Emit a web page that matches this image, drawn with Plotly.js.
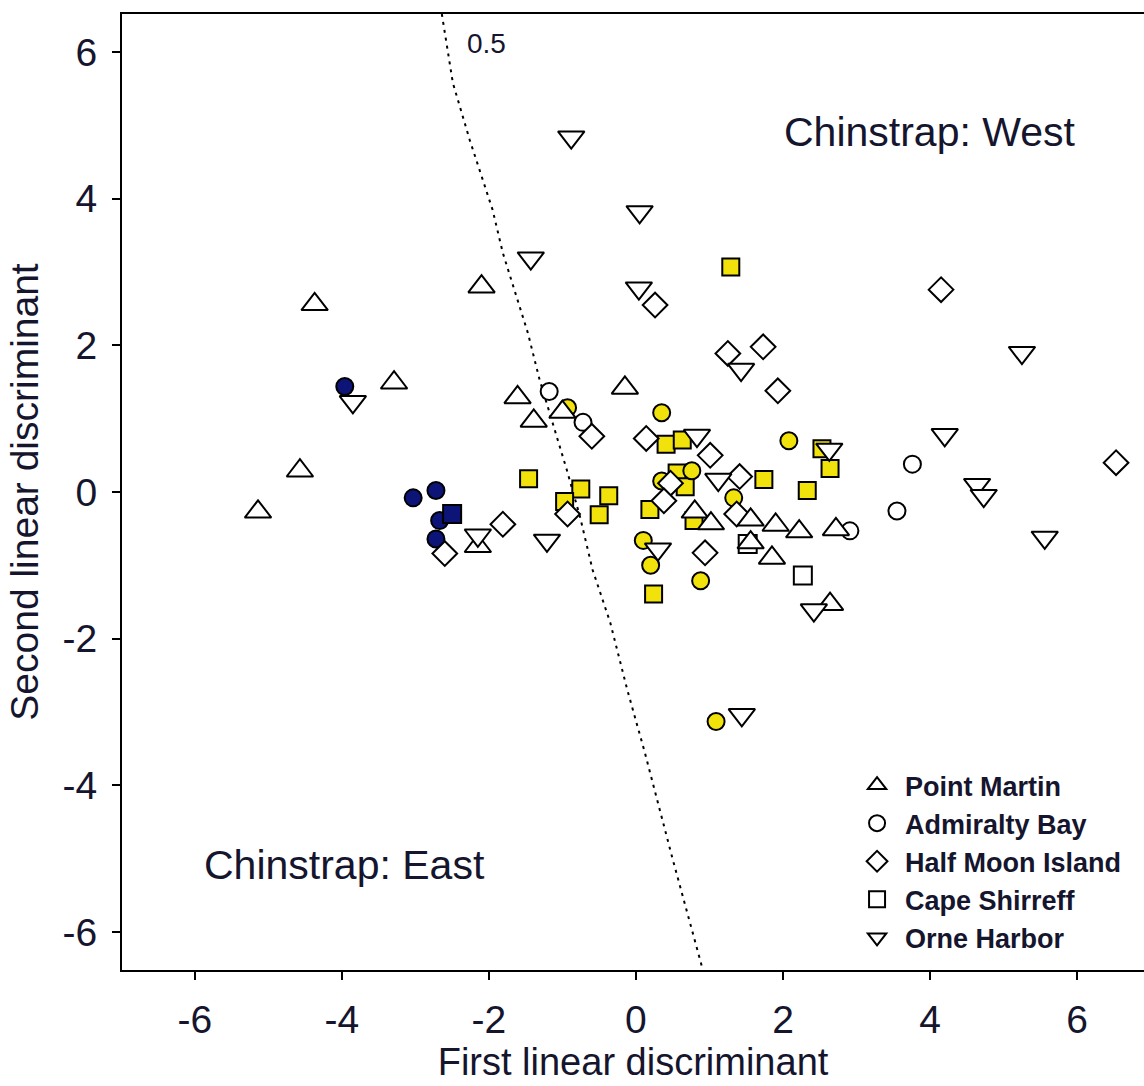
<!DOCTYPE html>
<html>
<head>
<meta charset="utf-8">
<script src="https://cdn.plot.ly/plotly-3.0.1.min.js"></script>
<style>html,body{margin:0;padding:0;background:#fff;}#chart{width:1144px;height:1086px;}</style>
</head>
<body>
<div id="chart"></div>
<script>
// Point Martin (open triangles)
const pointMartinX = [-2.10,-4.37,-3.29,-4.57,-5.14,-2.15,-1.61,-1.39,-1.00,-0.15,0.80,1.02,1.56,1.90,2.22,2.72,1.56,1.85,2.64];
const pointMartinY = [2.80,2.56,1.49,0.29,-0.27,-0.74,1.29,0.97,1.09,1.42,-0.27,-0.43,-0.38,-0.45,-0.54,-0.51,-0.69,-0.90,-1.53];
// Admiralty Bay (open circles)
const admiraltyX = [-1.18,-0.72,3.76,3.55,2.91];
const admiraltyY = [1.37,0.95,0.38,-0.26,-0.53];
// Half Moon Island (open diamonds)
const halfMoonX = [0.26,1.25,1.73,4.15,1.93,6.53,1.41,-0.60,0.14,1.01,-0.93,0.47,0.38,0.94,1.37,-1.81,-2.60];
const halfMoonY = [2.55,1.89,1.98,2.76,1.38,0.40,0.21,0.76,0.73,0.50,-0.30,0.12,-0.12,-0.83,-0.30,-0.44,-0.84];
// Cape Shirreff (open squares)
const capeShirreffX = [2.27,1.52];
const capeShirreffY = [-1.14,-0.71];
// Orne Harbor (open inverted triangles)
const orneHarborX = [-0.88,0.05,-1.43,0.04,-3.85,5.25,4.20,4.64,4.73,5.56,2.63,2.42,1.44,-1.21,-2.15,0.83,0.30,1.12,1.43];
const orneHarborY = [4.84,3.82,3.19,2.78,1.23,1.90,0.78,0.10,-0.05,-0.62,0.58,-1.61,-3.04,-0.66,-0.59,0.77,-0.78,0.17,1.67];
// Filled yellow circles (Admiralty Bay)
const admiraltyYellowX = [-0.93,0.35,0.35,0.76,1.33,2.08,0.10,0.20,0.88,1.09];
const admiraltyYellowY = [1.15,1.08,0.15,0.29,-0.08,0.70,-0.66,-1.00,-1.21,-3.13];
// Filled yellow squares (Cape Shirreff)
const capeYellowX = [1.29,-1.46,-0.75,-0.97,-0.37,-0.50,0.41,0.63,0.56,0.67,0.19,1.74,2.33,2.64,2.53,0.24,0.79];
const capeYellowY = [3.07,0.18,0.04,-0.13,-0.05,-0.31,0.65,0.71,0.26,0.07,-0.24,0.17,0.02,0.32,0.59,-1.39,-0.39];
// Filled navy circles / squares
const admiraltyNavyX = [-3.96,-3.03,-2.72,-2.67,-2.72];
const admiraltyNavyY = [1.44,-0.08,0.02,-0.39,-0.64];
const capeNavyX = [-2.50];
const capeNavyY = [-0.30];
// 0.5 probability boundary
const boundaryX = [-2.64,-2.49,-2.26,-2.08,-1.95,-1.81,-1.65,-1.47,-1.31,-1.10,-0.94,-0.76,-0.59,-0.35,-0.12,0.12,0.50,0.91];
const boundaryY = [6.52,5.58,4.80,4.26,3.85,3.26,2.76,2.17,1.53,0.85,0.30,-0.34,-1.06,-1.78,-2.69,-3.55,-5.01,-6.52];
// Tick labels
const tickVals = [-6,-4,-2,0,2,4,6];
const tickLabels = ['-6','-4','-2','0','2','4','6'];

const FONT = 'Liberation Sans, Arial, Helvetica, sans-serif';
const TXT = '#15152e';
const YELLOW = '#f2e20c';
const NAVY = '#0c1478';
const line = {color:'#000', width:2};

function tr(name, x, y, symbol, size, fill, opts) {
  return Object.assign({
    type:'scatter', mode:'markers', name:name, x:x, y:y,
    marker:{symbol:symbol, size:size, color:fill, line:line},
    hoverinfo:'x+y+name', cliponaxis:true
  }, opts || {});
}

const data = [
  {type:'scatter', mode:'lines', x:boundaryX, y:boundaryY, showlegend:false,
   line:{color:'#000', width:2, dash:'3px,5px'}, hoverinfo:'skip'},
  tr('Admiralty Bay', admiraltyX, admiraltyY, 'circle', 17, '#fff', {legendrank:2}),
  tr('Cape Shirreff (yellow)', capeYellowX, capeYellowY, 'square', 17, YELLOW, {showlegend:false}),
  tr('Admiralty Bay (yellow)', admiraltyYellowX, admiraltyYellowY, 'circle', 17, YELLOW, {showlegend:false}),
  tr('Admiralty Bay (navy)', admiraltyNavyX, admiraltyNavyY, 'circle', 17, NAVY, {showlegend:false}),
  tr('Cape Shirreff (navy)', capeNavyX, capeNavyY, 'square', 18, NAVY, {showlegend:false}),
  tr('Half Moon Island', halfMoonX, halfMoonY, 'diamond', 19, '#fff', {legendrank:3}),
  tr('Cape Shirreff', capeShirreffX, capeShirreffY, 'square', 18, '#fff', {legendrank:4}),
  tr('Point Martin', pointMartinX, pointMartinY, 'triangle-up', 23, '#fff', {legendrank:1}),
  tr('Orne Harbor', orneHarborX, orneHarborY, 'triangle-down', 23, '#fff', {legendrank:5})
];

const axisCommon = {
  showgrid:false, zeroline:false, showline:true, linecolor:'#000', linewidth:2,
  ticks:'outside', ticklen:8, tickwidth:2, tickcolor:'#000',
  tickmode:'array', tickvals:tickVals, ticktext:tickLabels,
  tickfont:{family:FONT, size:39, color:TXT}
};

const layout = {
  width:1144, height:1086,
  margin:{l:122, r:0, t:14, b:116, pad:0},
  paper_bgcolor:'#fff', plot_bgcolor:'#fff',
  font:{family:FONT, color:TXT},
  xaxis:Object.assign({}, axisCommon, {
    range:[-6.99, 6.91], mirror:true, ticklabelstandoff:6,
    title:{text:'First linear discriminant', font:{family:FONT, size:38, color:TXT}, standoff:8}
  }),
  yaxis:Object.assign({}, axisCommon, {
    range:[-6.52, 6.52], mirror:false, ticklabelstandoff:7,
    title:{text:'Second linear discriminant', font:{family:FONT, size:39, color:TXT}, standoff:12}
  }),
  showlegend:true,
  legend:{x:0.7114, y:0.2186, xanchor:'left', yanchor:'top', bgcolor:'rgba(0,0,0,0)',
          font:{family:FONT, size:27, color:TXT, weight:'bold'}, itemwidth:46, tracegroupgap:0},
  annotations:[
    {x:4.0, y:4.91, xref:'x', yref:'y', text:'Chinstrap: West', showarrow:false,
     font:{family:FONT, size:41, color:TXT}},
    {x:-3.97, y:-5.09, xref:'x', yref:'y', text:'Chinstrap: East', showarrow:false,
     font:{family:FONT, size:41, color:TXT}},
    {x:-2.03, y:6.12, xref:'x', yref:'y', text:'0.5', showarrow:false,
     font:{family:FONT, size:28, color:TXT}}
  ]
};

Plotly.newPlot('chart', data, layout, {displayModeBar:false, staticPlot:true});
</script>
</body>
</html>
